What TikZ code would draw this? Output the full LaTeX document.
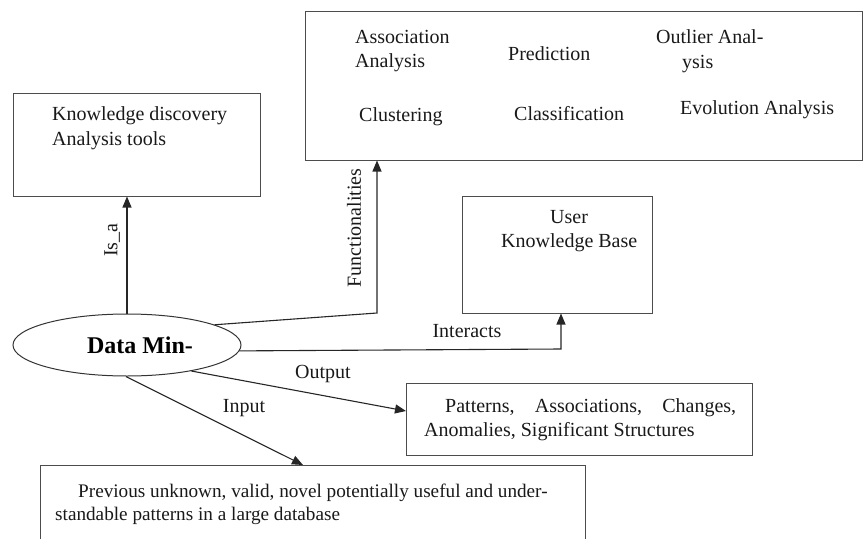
\documentclass[tikz,border=0pt]{standalone}
\usepackage{fontspec}
\setmainfont{Liberation Serif}
\usetikzlibrary{arrows.meta,shapes.geometric}
\begin{document}
\begin{tikzpicture}[x=1pt,y=-1pt,
  box/.style={draw=black!70,line width=1pt,rectangle,inner sep=0pt},
  txt/.style={inner sep=0pt,anchor=base west,font=\fontsize{20}{24}\selectfont,text=black!90},
  arr/.style={line width=1.1pt,draw=black!85,-{Triangle[length=11pt,width=9pt]}},
  ln/.style={line width=1.1pt,draw=black!85}]
\useasboundingbox (0,0) rectangle (864,538);
% boxes
\node[box,minimum width=557pt,minimum height=149pt] (fb) at (583.5,85.5) {};
\node[box,minimum width=247pt,minimum height=103pt] (kd) at (136.5,144.5) {};
\node[box,minimum width=190pt,minimum height=117pt] (ukb) at (557,254.5) {};
\node[box,minimum width=346pt,minimum height=72pt] (ob) at (579,419) {};
\draw[draw=black!70,line width=1pt] (40,545) -- (40,465) coordinate (ib1) -- (585,465) coordinate (ib2) -- (585,545);
% texts
\node[txt] (t1) at (355,43) {Association};
\node[txt] (t2) at (355,67) {Analysis};
\node[txt] (t3) at (508,60) {Prediction};
\node[txt] (t4) at (656,43) {Outlier Anal-};
\node[txt] (t5) at (682,68) {ysis};
\node[txt] (t6) at (359,121) {Clustering};
\node[txt] (t7) at (514,120) {Classification};
\node[txt] (t8) at (680,114) {Evolution Analysis};
\node[txt] (k1) at (52,120) {Knowledge discovery};
\node[txt] (k2) at (52,145) {Analysis tools};
\node[txt] (u1) at (550,223) {User};
\node[txt] (u2) at (501,247) {Knowledge Base};
\node[txt] (o1) at (445,412) {\makebox[291pt][s]{Patterns, Associations, Changes,}};
\node[txt] (o2) at (424,436) {Anomalies, Significant Structures};
\node[txt,font=\fontsize{19.2}{23}\selectfont] (i1) at (78,497) {Previous unknown, valid, novel potentially useful and under-};
\node[txt,font=\fontsize{19.2}{23}\selectfont] (i2) at (55,520) {standable patterns in a large database};
% ellipse
\node[draw=black!80,line width=1pt,ellipse,minimum width=228pt,minimum height=62pt,inner sep=0pt,
  font=\bfseries\fontsize{24}{28}\selectfont] (dm) at (127,345) {\hspace{26pt}Data Min-};
% connectors
\draw[arr] (dm.north) -- (dm.north |- kd.south);
\node[txt,anchor=center,rotate=90] (lisa) at (112,240) {Is\_a};
\coordinate (fc) at (377,313);
\draw[arr] (dm.13) -- (fc) -- (fc |- fb.south);
\node[txt,anchor=center,rotate=90] (lfun) at (354,228) {Functionalities};
\coordinate (ic) at (561,349);
\draw[arr] (dm.-3) -- (ic) -- (ic |- ukb.south);
\node[txt,anchor=center] (lint) at (467,331) {Interacts};
\coordinate (oc) at (406,411);
\draw[arr] (dm.-22) -- (oc);
\node[txt,anchor=center] (lout) at (323,374) {Output};
\draw[arr] (dm.-92) -- (303,465);
\node[txt,anchor=center] (lin) at (244,408) {Input};
\end{tikzpicture}
\end{document}
